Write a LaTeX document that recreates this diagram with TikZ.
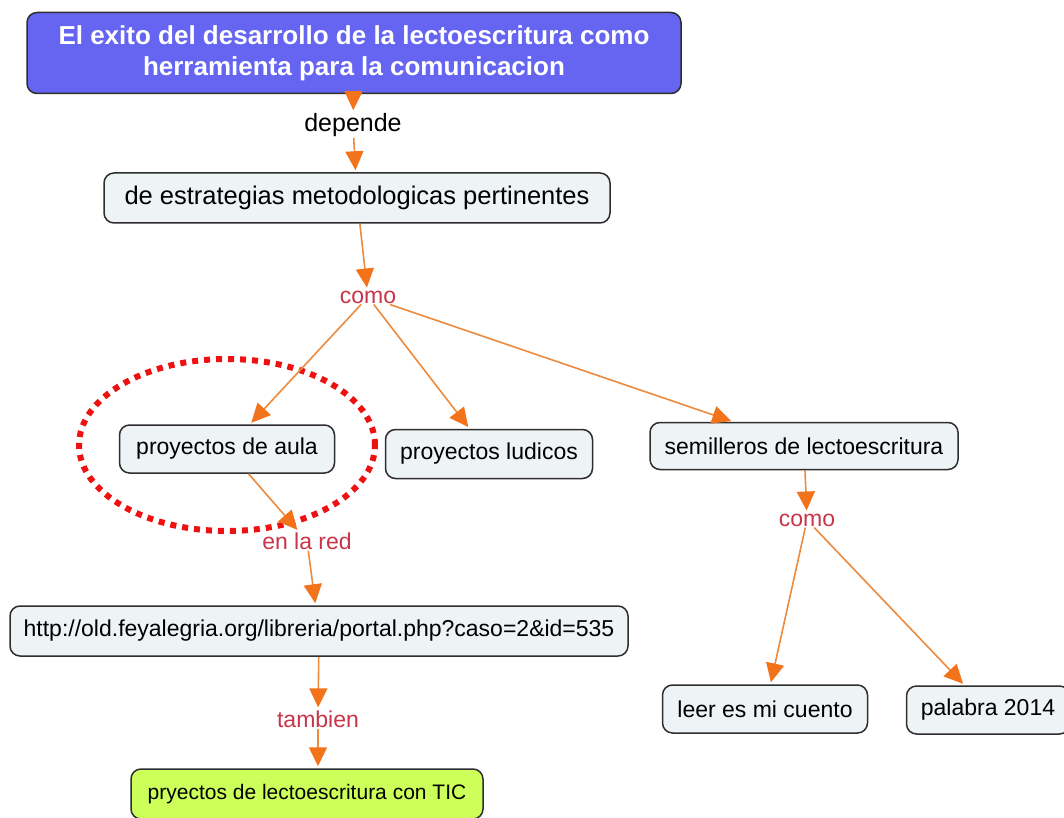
\documentclass[tikz,border=0pt]{standalone}
\usepackage{fontspec}
\setmainfont{Liberation Sans}
\usetikzlibrary{arrows.meta}
\definecolor{topblue}{HTML}{6565F2}
\definecolor{boxfill}{HTML}{EEF3F6}
\definecolor{boxline}{HTML}{2E2E2E}
\definecolor{ticgreen}{HTML}{CCFF5A}
\definecolor{linecol}{HTML}{EC8A3E}
\definecolor{tipcol}{HTML}{F2731A}
\definecolor{lblred}{HTML}{C83448}
\definecolor{dotred}{HTML}{EE1111}
\begin{document}
\begin{tikzpicture}[x=1pt,y=-1pt,
  box/.style={draw=boxline, line width=1.5pt, rounded corners=10pt, fill=boxfill,
    font=\fontsize{23}{27}\selectfont, inner sep=0pt},
  topbox/.style={box, fill=topblue, text=white, align=center,
    font=\bfseries\fontsize{26}{31}\selectfont},
  lbl/.style={font=\fontsize{23}{27}\selectfont, text=lblred, inner sep=1pt},
  conn/.style={draw=linecol, line width=1.6pt,
    -{Triangle[length=19pt,width=18pt,color=tipcol]}, shorten >=2pt}]
\useasboundingbox (0,0) rectangle (1064,818);

\node[topbox, minimum width=654pt, minimum height=81pt] (top) at (354,53)
  {El exito del desarrollo de la lectoescritura como\\herramienta para la comunicacion};
\node[lbl, text=black, font=\fontsize{25}{29}\selectfont] (dep) at (353,125) {depende};
\node[box, font=\fontsize{25.5}{30}\selectfont, minimum width=506pt, minimum height=50pt] (est) at (357,198)
  {de estrategias metodologicas pertinentes};
\node[lbl] (como1) at (368,297) {como};
\node[box, minimum width=215pt, minimum height=48pt] (aula) at (227,449) {proyectos de aula};
\node[box, minimum width=207pt, minimum height=49pt] (ludi) at (489,454) {proyectos ludicos};
\node[box, minimum width=308pt, minimum height=47pt] (semi) at (804,446) {semilleros de lectoescritura};
\node[lbl] (red) at (307,541) {en la red};
\node[box, minimum width=618pt, minimum height=50pt] (url) at (319,631)
  {http://old.feyalegria.org/libreria/portal.php?caso=2\&id=535};
\node[lbl] (tamb) at (318,719) {tambien};
\node[box, fill=ticgreen, font=\fontsize{21}{25}\selectfont, minimum width=352pt, minimum height=50pt] (tic) at (307,794)
  {pryectos de lectoescritura con TIC};
\node[lbl] (como2) at (807,520) {como};
\node[box, minimum width=205pt, minimum height=48pt] (leer) at (765,709) {leer es mi cuento};
\node[box, minimum width=163pt, minimum height=48pt] (pal) at (988,710) {palabra 2014};

\draw[dotred, line width=6pt, dash pattern=on 6pt off 6pt]
  (227,445) ellipse [x radius=148pt, y radius=86pt];

\draw[conn] (top) -- (dep);
\draw[conn] (dep) -- (est);
\draw[conn] (est) -- (como1);
\draw[conn] (como1) -- (aula);
\draw[conn] (como1) -- (ludi);
\draw[conn] (como1) -- (semi);
\draw[conn] (aula) -- (red);
\draw[conn] (red) -- (url);
\draw[conn] (url) -- (tamb);
\draw[conn] (tamb) -- (tamb |- tic.north);
\draw[conn] (semi) -- (como2);
\draw[conn] (como2) -- (leer);
\draw[conn] (como2) -- (pal);
\end{tikzpicture}
\end{document}
